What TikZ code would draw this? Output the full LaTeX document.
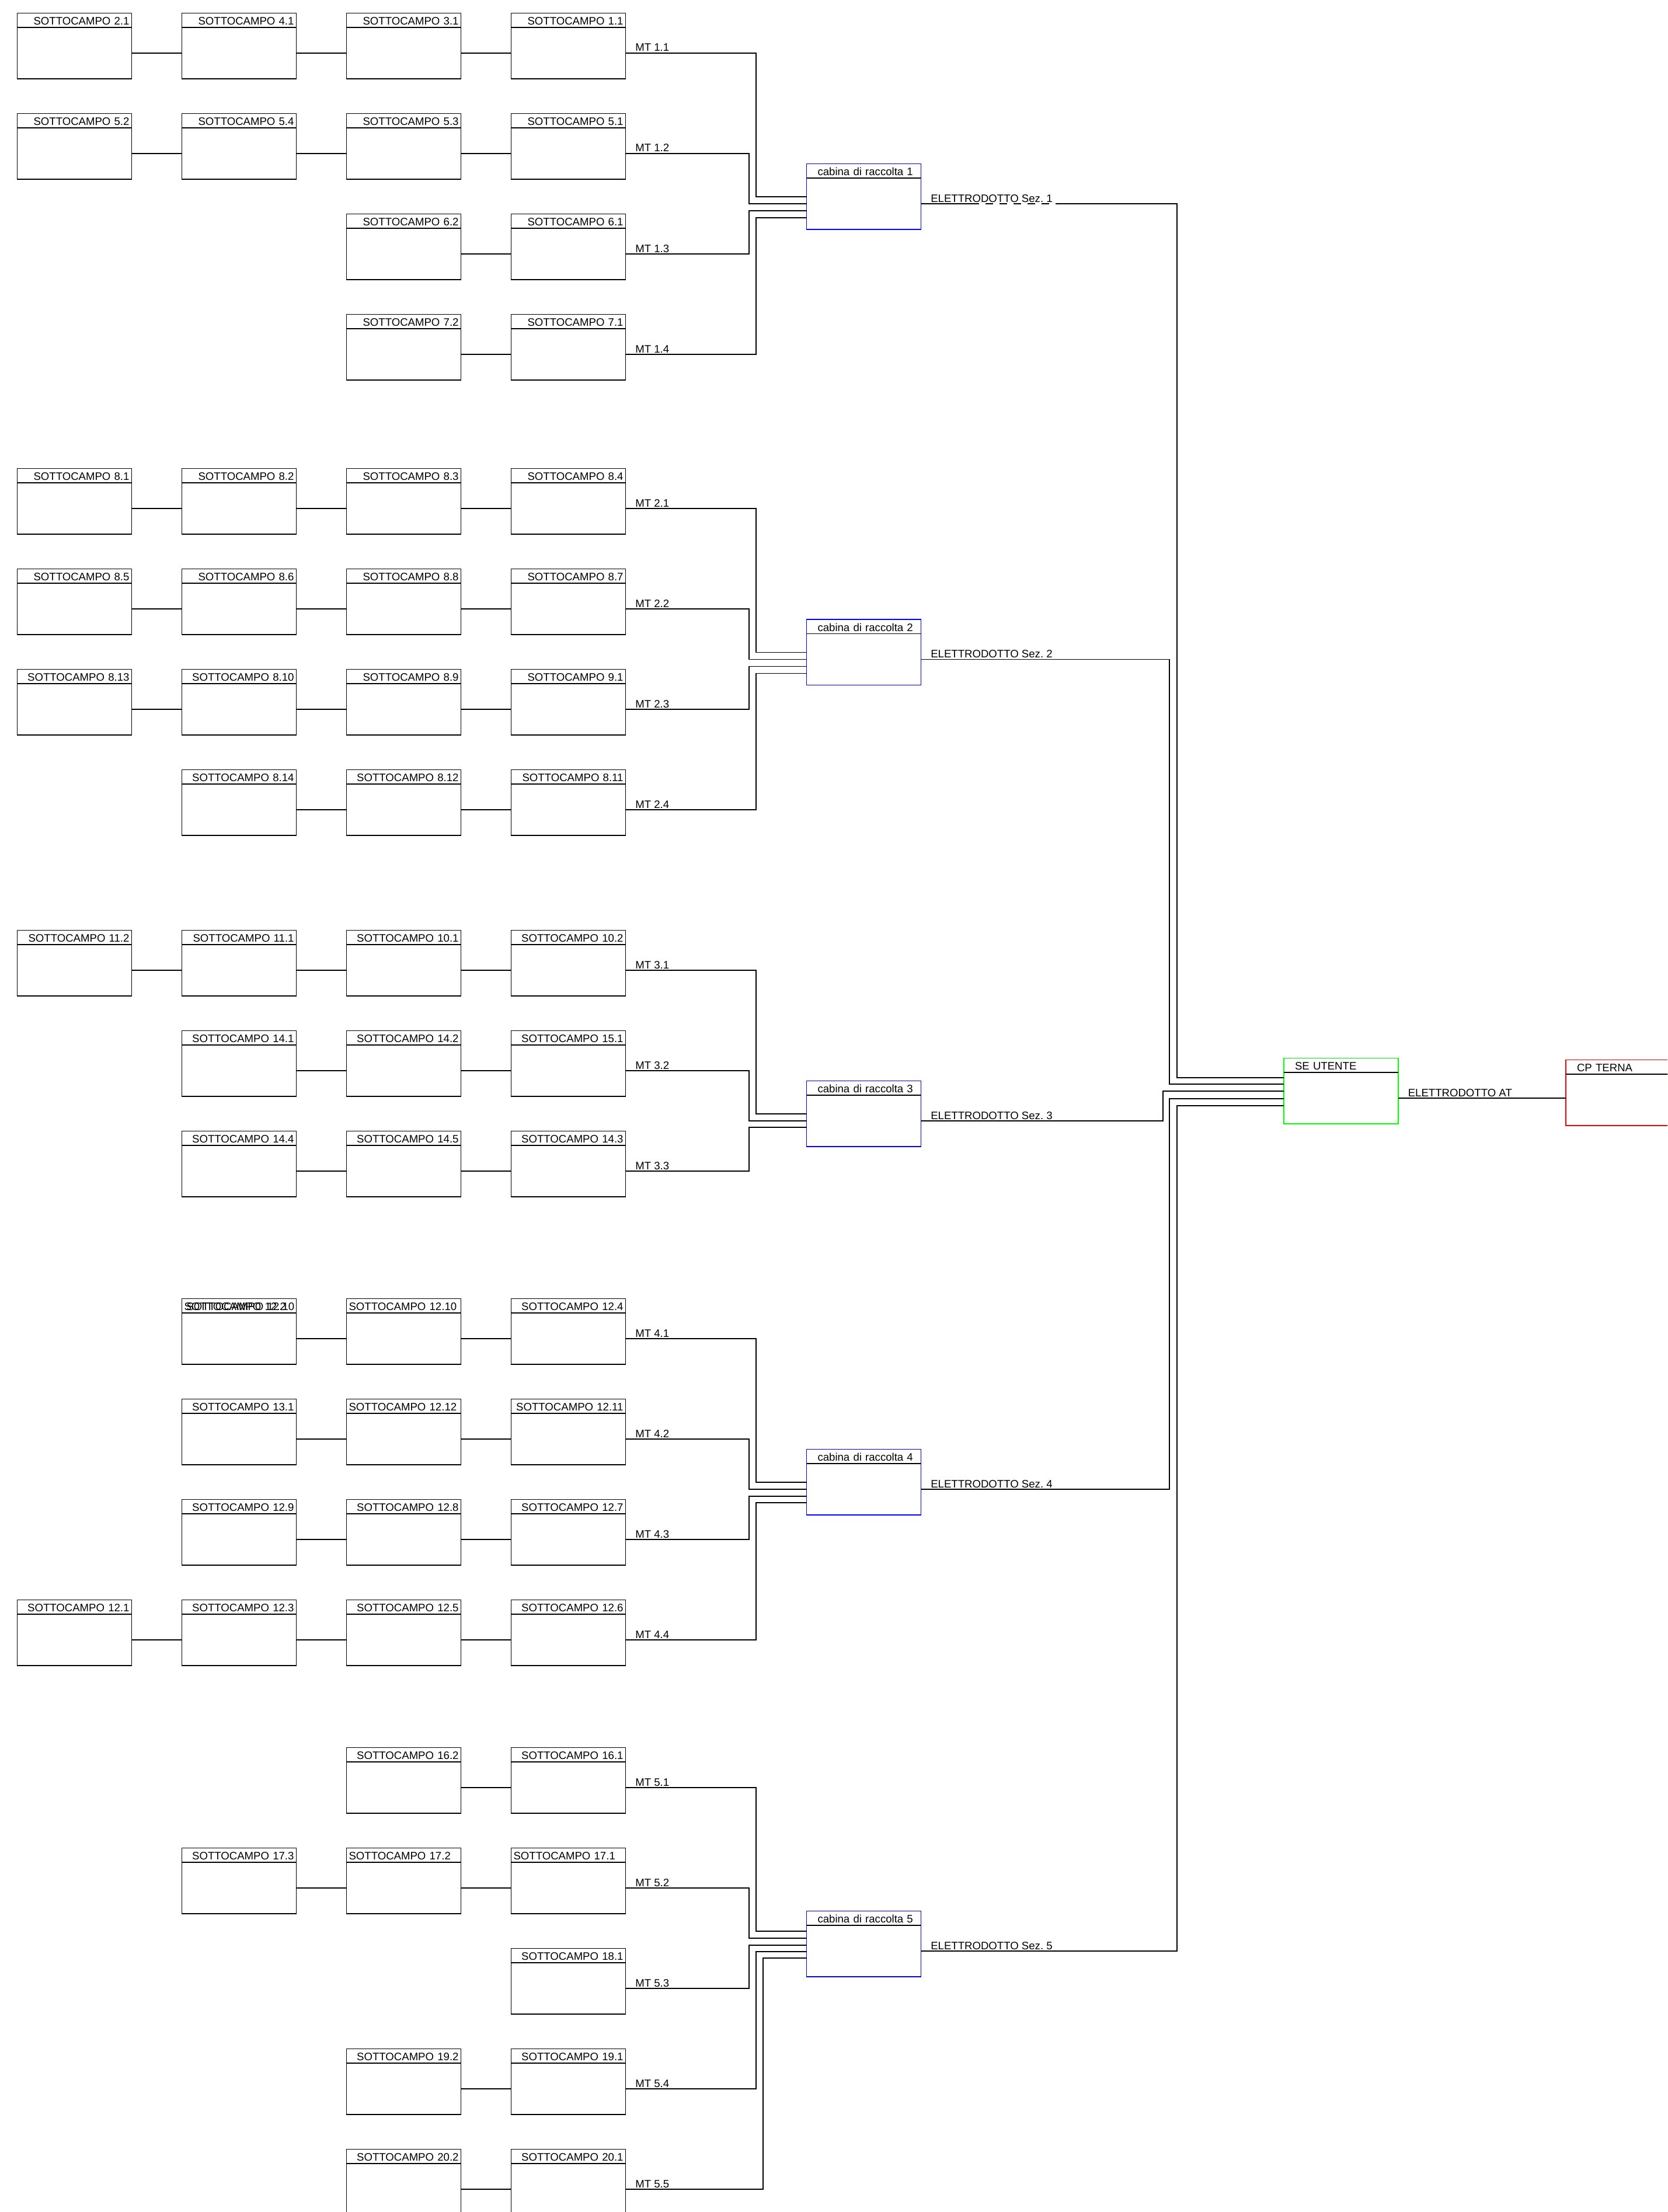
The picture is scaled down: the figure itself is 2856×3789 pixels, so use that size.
\documentclass[tikz,border=0pt]{standalone}
\usepackage{fontspec}
\setmainfont{Liberation Sans}
\usetikzlibrary{calc}
\frenchspacing
\newcommand{\rientro}{\hspace*{7.5pt}}

\begin{document}
\begin{tikzpicture}[
            x=0.5pt, y=-0.5pt,
            line width=0.75pt,
            every node/.style={font=\fontsize{9.3}{11}\selectfont},
            campo/.style={
                draw,
                rectangle,
                minimum width=98pt,
                minimum height=44pt,
                inner sep=0pt,
                outer sep=0pt
            },
            testata/.style={
                draw,
                rectangle,
                minimum height=12.25pt,
                text width=94pt,
                text height=8pt,
                text depth=0pt,
                inner xsep=2pt,
                inner ysep=0pt,
                outer sep=0pt,
                align=right
            },
            testatasx/.style={testata, align=left},
            etichetta/.style={
                anchor=base west,
                inner sep=0pt,
                shift={(16,-3)}
            }
        ]
            \useasboundingbox (0,0) rectangle (2856,3789);
            \fill[white] (0,0) rectangle (2856,3789);
            \clip (0,0) rectangle (2856,3789);

            % Sezione 1
            \node[campo, label={[testata]north:SOTTOCAMPO 2.1}] (s2-1) at (127.5,91) {};
            \node[campo, label={[testata]north:SOTTOCAMPO 4.1}] (s4-1) at (409.5,91) {};
            \node[campo, label={[testata]north:SOTTOCAMPO 3.1}] (s3-1) at (691.5,91) {};
            \node[campo, label={[testata]north:SOTTOCAMPO 1.1}] (s1-1) at (973.5,91) {};
            \node[campo, label={[testata]north:SOTTOCAMPO 5.2}] (s5-2) at (127.5,263) {};
            \node[campo, label={[testata]north:SOTTOCAMPO 5.4}] (s5-4) at (409.5,263) {};
            \node[campo, label={[testata]north:SOTTOCAMPO 5.3}] (s5-3) at (691.5,263) {};
            \node[campo, label={[testata]north:SOTTOCAMPO 5.1}] (s5-1) at (973.5,263) {};
            \node[campo, label={[testata]north:SOTTOCAMPO 6.2}] (s6-2) at (691.5,435) {};
            \node[campo, label={[testata]north:SOTTOCAMPO 6.1}] (s6-1) at (973.5,435) {};
            \node[campo, label={[testata]north:SOTTOCAMPO 7.2}] (s7-2) at (691.5,607) {};
            \node[campo, label={[testata]north:SOTTOCAMPO 7.1}] (s7-1) at (973.5,607) {};
            \node[campo, draw=blue, label={[testatasx, draw=blue]north:\rientro cabina di raccolta 1}] (cab1) at (1479.5,349) {};

            % Sezione 2
            \node[campo, label={[testata]north:SOTTOCAMPO 8.1}] (s8-1) at (127.5,871) {};
            \node[campo, label={[testata]north:SOTTOCAMPO 8.2}] (s8-2) at (409.5,871) {};
            \node[campo, label={[testata]north:SOTTOCAMPO 8.3}] (s8-3) at (691.5,871) {};
            \node[campo, label={[testata]north:SOTTOCAMPO 8.4}] (s8-4) at (973.5,871) {};
            \node[campo, label={[testata]north:SOTTOCAMPO 8.5}] (s8-5) at (127.5,1043) {};
            \node[campo, label={[testata]north:SOTTOCAMPO 8.6}] (s8-6) at (409.5,1043) {};
            \node[campo, label={[testata]north:SOTTOCAMPO 8.8}] (s8-8) at (691.5,1043) {};
            \node[campo, label={[testata]north:SOTTOCAMPO 8.7}] (s8-7) at (973.5,1043) {};
            \node[campo, label={[testata]north:SOTTOCAMPO 8.13}] (s8-13) at (127.5,1215) {};
            \node[campo, label={[testata]north:SOTTOCAMPO 8.10}] (s8-10) at (409.5,1215) {};
            \node[campo, label={[testata]north:SOTTOCAMPO 8.9}] (s8-9) at (691.5,1215) {};
            \node[campo, label={[testata]north:SOTTOCAMPO 9.1}] (s9-1) at (973.5,1215) {};
            \node[campo, label={[testata]north:SOTTOCAMPO 8.14}] (s8-14) at (409.5,1387) {};
            \node[campo, label={[testata]north:SOTTOCAMPO 8.12}] (s8-12) at (691.5,1387) {};
            \node[campo, label={[testata]north:SOTTOCAMPO 8.11}] (s8-11) at (973.5,1387) {};
            \node[campo, draw=blue, label={[testatasx, draw=blue]north:\rientro cabina di raccolta 2}] (cab2) at (1479.5,1129.5) {};

            % Sezione 3
            \node[campo, label={[testata]north:SOTTOCAMPO 11.2}] (s11-2) at (127.5,1662) {};
            \node[campo, label={[testata]north:SOTTOCAMPO 11.1}] (s11-1) at (409.5,1662) {};
            \node[campo, label={[testata]north:SOTTOCAMPO 10.1}] (s10-1) at (691.5,1662) {};
            \node[campo, label={[testata]north:SOTTOCAMPO 10.2}] (s10-2) at (973.5,1662) {};
            \node[campo, label={[testata]north:SOTTOCAMPO 14.1}] (s14-1) at (409.5,1834) {};
            \node[campo, label={[testata]north:SOTTOCAMPO 14.2}] (s14-2) at (691.5,1834) {};
            \node[campo, label={[testata]north:SOTTOCAMPO 15.1}] (s15-1) at (973.5,1834) {};
            \node[campo, label={[testata]north:SOTTOCAMPO 14.4}] (s14-4) at (409.5,2006) {};
            \node[campo, label={[testata]north:SOTTOCAMPO 14.5}] (s14-5) at (691.5,2006) {};
            \node[campo, label={[testata]north:SOTTOCAMPO 14.3}] (s14-3) at (973.5,2006) {};
            \node[campo, draw=blue, label={[testatasx, draw=blue]north:\rientro cabina di raccolta 3}] (cab3) at (1479.5,1920) {};

            % Sezione 4
            \node[campo, label={[testatasx]north:SOTTOCAMPO 12.2}, label={[testatasx, draw=none, xshift=2pt]north:SOTTOCAMPO 12.10}] (s12-2) at (409.5,2293) {};
            \node[campo, label={[testatasx]north:SOTTOCAMPO 12.10}] (s12-10) at (691.5,2293) {};
            \node[campo, label={[testata]north:SOTTOCAMPO 12.4}] (s12-4) at (973.5,2293) {};
            \node[campo, label={[testata]north:SOTTOCAMPO 13.1}] (s13-1) at (409.5,2465) {};
            \node[campo, label={[testatasx]north:SOTTOCAMPO 12.12}] (s12-12) at (691.5,2465) {};
            \node[campo, label={[testata]north:SOTTOCAMPO 12.11}] (s12-11) at (973.5,2465) {};
            \node[campo, label={[testata]north:SOTTOCAMPO 12.9}] (s12-9) at (409.5,2637) {};
            \node[campo, label={[testata]north:SOTTOCAMPO 12.8}] (s12-8) at (691.5,2637) {};
            \node[campo, label={[testata]north:SOTTOCAMPO 12.7}] (s12-7) at (973.5,2637) {};
            \node[campo, label={[testata]north:SOTTOCAMPO 12.1}] (s12-1) at (127.5,2809) {};
            \node[campo, label={[testata]north:SOTTOCAMPO 12.3}] (s12-3) at (409.5,2809) {};
            \node[campo, label={[testata]north:SOTTOCAMPO 12.5}] (s12-5) at (691.5,2809) {};
            \node[campo, label={[testata]north:SOTTOCAMPO 12.6}] (s12-6) at (973.5,2809) {};
            \node[campo, draw=blue, label={[testatasx, draw=blue]north:\rientro cabina di raccolta 4}] (cab4) at (1479.5,2551) {};

            % Sezione 5
            \node[campo, label={[testata]north:SOTTOCAMPO 16.2}] (s16-2) at (691.5,3062) {};
            \node[campo, label={[testata]north:SOTTOCAMPO 16.1}] (s16-1) at (973.5,3062) {};
            \node[campo, label={[testata]north:SOTTOCAMPO 17.3}] (s17-3) at (409.5,3234) {};
            \node[campo, label={[testatasx]north:SOTTOCAMPO 17.2}] (s17-2) at (691.5,3234) {};
            \node[campo, label={[testatasx]north:SOTTOCAMPO 17.1}] (s17-1) at (973.5,3234) {};
            \node[campo, label={[testata]north:SOTTOCAMPO 18.1}] (s18-1) at (973.5,3406) {};
            \node[campo, label={[testata]north:SOTTOCAMPO 19.2}] (s19-2) at (691.5,3578) {};
            \node[campo, label={[testata]north:SOTTOCAMPO 19.1}] (s19-1) at (973.5,3578) {};
            \node[campo, label={[testata]north:SOTTOCAMPO 20.2}] (s20-2) at (691.5,3750) {};
            \node[campo, label={[testata]north:SOTTOCAMPO 20.1}] (s20-1) at (973.5,3750) {};
            \node[campo, draw=blue, label={[testatasx, draw=blue]north:\rientro cabina di raccolta 5}] (cab5) at (1479.5,3342) {};

            % Stazione utente e CP
            \node[campo, draw=green, label={[testatasx, draw=green]north:\rientro SE UTENTE}] (se) at (2297,1881) {};
            \node[campo, draw=red, label={[testatasx, draw=red]north:\rientro CP TERNA}] (cp) at (2780,1884) {};

            % Linee di testata nere
            \foreach \c in {cab1, cab2, cab3, cab4, cab5, se, cp}
                \draw (\c.north west) -- (\c.north east);

            % Collegamenti tra sottocampi
            \draw (s2-1) -- (s4-1) -- (s3-1) -- (s1-1);
            \draw (s5-2) -- (s5-4) -- (s5-3) -- (s5-1);
            \draw (s6-2) -- (s6-1);
            \draw (s7-2) -- (s7-1);
            \draw (s8-1) -- (s8-2) -- (s8-3) -- (s8-4);
            \draw (s8-5) -- (s8-6) -- (s8-8) -- (s8-7);
            \draw (s8-13) -- (s8-10) -- (s8-9) -- (s9-1);
            \draw (s8-14) -- (s8-12) -- (s8-11);
            \draw (s11-2) -- (s11-1) -- (s10-1) -- (s10-2);
            \draw (s14-1) -- (s14-2) -- (s15-1);
            \draw (s14-4) -- (s14-5) -- (s14-3);
            \draw (s12-2) -- (s12-10) -- (s12-4);
            \draw (s13-1) -- (s12-12) -- (s12-11);
            \draw (s12-9) -- (s12-8) -- (s12-7);
            \draw (s12-1) -- (s12-3) -- (s12-5) -- (s12-6);
            \draw (s16-2) -- (s16-1);
            \draw (s17-3) -- (s17-2) -- (s17-1);
            \draw (s19-2) -- (s19-1);
            \draw (s20-2) -- (s20-1);

            % Colonne verticali delle linee MT e AT
            \coordinate (xa) at (1295,0);
            \coordinate (xb) at (1283,0);
            \coordinate (xc) at (1307,0);
            \coordinate (ya) at (2016,0);
            \coordinate (yb) at (2003,0);
            \coordinate (yc) at (1992,0);

            % Ingressi cabine
            \coordinate (c1a) at ($(cab1.west)+(0,-12)$);
            \coordinate (c1b) at ($(cab1.west)+(0,0)$);
            \coordinate (c1c) at ($(cab1.west)+(0,12)$);
            \coordinate (c1d) at ($(cab1.west)+(0,24)$);
            \coordinate (c2a) at ($(cab2.west)+(0,-12)$);
            \coordinate (c2b) at ($(cab2.west)+(0,0)$);
            \coordinate (c2c) at ($(cab2.west)+(0,12)$);
            \coordinate (c2d) at ($(cab2.west)+(0,24)$);
            \coordinate (c3a) at ($(cab3.west)+(0,-12)$);
            \coordinate (c3b) at ($(cab3.west)+(0,0)$);
            \coordinate (c3c) at ($(cab3.west)+(0,11)$);
            \coordinate (c4a) at ($(cab4.west)+(0,-12)$);
            \coordinate (c4b) at ($(cab4.west)+(0,0)$);
            \coordinate (c4c) at ($(cab4.west)+(0,12)$);
            \coordinate (c4d) at ($(cab4.west)+(0,23)$);
            \coordinate (c5a) at ($(cab5.west)+(0,-34)$);
            \coordinate (c5b) at ($(cab5.west)+(0,-22)$);
            \coordinate (c5c) at ($(cab5.west)+(0,-10)$);
            \coordinate (c5d) at ($(cab5.west)+(0,1)$);
            \coordinate (c5e) at ($(cab5.west)+(0,12)$);

            % Ingressi SE utente
            \coordinate (e1) at ($(se.west)+(0,-35)$);
            \coordinate (e2) at ($(se.west)+(0,-24)$);
            \coordinate (e3) at ($(se.west)+(0,-12)$);
            \coordinate (e4) at ($(se.west)+(0,1)$);
            \coordinate (e5) at ($(se.west)+(0,13)$);

            % Linee MT
            \draw (s1-1.east) node[etichetta] (mt1-1) {MT 1.1} -| (xa |- c1a) -- (c1a);
            \draw (s5-1.east) node[etichetta] (mt1-2) {MT 1.2} -| (xb |- c1b) -- (c1b);
            \draw (s6-1.east) node[etichetta] (mt1-3) {MT 1.3} -| (xb |- c1c) -- (c1c);
            \draw (s7-1.east) node[etichetta] (mt1-4) {MT 1.4} -| (xa |- c1d) -- (c1d);
            \draw (s8-4.east) node[etichetta] (mt2-1) {MT 2.1} -| (xa |- c2a) -- (c2a);
            \draw (s8-7.east) node[etichetta] (mt2-2) {MT 2.2} -| (xb |- c2b) -- (c2b);
            \draw (s9-1.east) node[etichetta] (mt2-3) {MT 2.3} -| (xb |- c2c) -- (c2c);
            \draw (s8-11.east) node[etichetta] (mt2-4) {MT 2.4} -| (xa |- c2d) -- (c2d);
            \draw (s10-2.east) node[etichetta] (mt3-1) {MT 3.1} -| (xa |- c3a) -- (c3a);
            \draw (s15-1.east) node[etichetta] (mt3-2) {MT 3.2} -| (xb |- c3b) -- (c3b);
            \draw (s14-3.east) node[etichetta] (mt3-3) {MT 3.3} -| (xb |- c3c) -- (c3c);
            \draw (s12-4.east) node[etichetta] (mt4-1) {MT 4.1} -| (xa |- c4a) -- (c4a);
            \draw (s12-11.east) node[etichetta] (mt4-2) {MT 4.2} -| (xb |- c4b) -- (c4b);
            \draw (s12-7.east) node[etichetta] (mt4-3) {MT 4.3} -| (xb |- c4c) -- (c4c);
            \draw (s12-6.east) node[etichetta] (mt4-4) {MT 4.4} -| (xa |- c4d) -- (c4d);
            \draw (s16-1.east) node[etichetta] (mt5-1) {MT 5.1} -| (xa |- c5a) -- (c5a);
            \draw (s17-1.east) node[etichetta] (mt5-2) {MT 5.2} -| (xb |- c5b) -- (c5b);
            \draw (s18-1.east) node[etichetta] (mt5-3) {MT 5.3} -| (xb |- c5c) -- (c5c);
            \draw (s19-1.east) node[etichetta] (mt5-4) {MT 5.4} -| (xa |- c5d) -- (c5d);
            \draw (s20-1.east) node[etichetta] (mt5-5) {MT 5.5} -| (xc |- c5e) -- (c5e);

            % Elettrodotti verso la SE utente
            \draw (cab1.east) node[etichetta] (el1) {ELETTRODOTTO Sez. 1} -| (ya |- e1) -- (e1);
            \draw[white, line width=1.4pt, dash pattern=on 5.75pt off 6.25pt]
                ($(cab1.east)+(99,0)$) -- ($(cab1.east)+(231,0)$);
            \draw (cab2.east) node[etichetta] (el2) {ELETTRODOTTO Sez. 2} -| (yb |- e2) -- (e2);
            \draw (cab3.east) node[etichetta] (el3) {ELETTRODOTTO Sez. 3} -| (yc |- e3) -- (e3);
            \draw (cab4.east) node[etichetta] (el4) {ELETTRODOTTO Sez. 4} -| (yb |- e4) -- (e4);
            \draw (cab5.east) node[etichetta] (el5) {ELETTRODOTTO Sez. 5} -| (ya |- e5) -- (e5);

            % Elettrodotto AT
            \draw (se.east) node[etichetta] (elat) {ELETTRODOTTO AT} -- (se.east -| cp.west);
        \end{tikzpicture}
\end{document}
